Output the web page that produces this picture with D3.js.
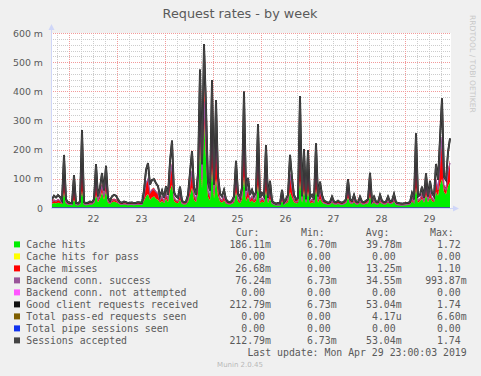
<!DOCTYPE html>
<html>
<head>
<meta charset="utf-8">
<script src="https://d3js.org/d3.v7.min.js"></script>
<style>
  body { margin: 0; background: #f0f0f0; }
  svg { display: block; }
  .ttl { font-family: "DejaVu Sans", sans-serif; }
  .mono { font-family: "DejaVu Sans Mono", monospace; }
</style>
</head>
<body>
<div id="chart"></div>
<script>
// hourly samples, Apr 21 15:00 -> Apr 29 23:00 (values in milli req/s)
var clientReq = [
  30, 42, 36, 44, 38, 26, 182, 30, 20, 18,
  17, 113, 18, 16, 22, 267, 20, 17, 18, 22,
  20, 30, 151, 40, 69, 120, 60, 145, 35, 25,
  40, 45, 42, 30, 20, 18, 22, 20, 17, 18,
  19, 17, 18, 20, 19, 18, 60, 130, 154, 80,
  96, 99, 85, 75, 40, 60, 35, 75, 45, 159,
  231, 55, 40, 35, 73, 25, 20, 22, 45, 121,
  195, 70, 45, 120, 475, 150, 562, 346, 90, 60,
  439, 80, 370, 110, 50, 40, 62, 30, 22, 20,
  25, 40, 162, 50, 35, 70, 399, 60, 103, 45,
  62, 40, 55, 288, 35, 51, 40, 216, 35, 93,
  25, 18, 15, 17, 16, 62, 20, 30, 45, 182,
  103, 45, 30, 35, 384, 40, 202, 30, 199, 35,
  45, 30, 222, 40, 90, 45, 25, 22, 18, 20,
  39, 22, 20, 25, 20, 18, 22, 30, 99, 30,
  25, 45, 22, 20, 39, 22, 20, 25, 30, 121,
  25, 39, 22, 20, 45, 25, 20, 22, 39, 22,
  25, 48, 20, 17, 16, 15, 16, 17, 18, 20,
  51, 30, 256, 40, 45, 73, 35, 119, 40, 93,
  51, 40, 151, 96, 237, 376, 107, 96, 191, 239
];
// sessions accepted reads identical to good client requests
var sessions = clientReq;

var cacheHits = [
  15, 17, 16, 18, 17, 14, 55, 15, 13, 13,
  13, 28, 13, 13, 14, 60, 13, 13, 13, 14,
  13, 16, 45, 20, 32, 55, 28, 60, 17, 15,
  20, 22, 20, 16, 13, 13, 14, 13, 13, 13,
  13, 13, 13, 13, 13, 13, 25, 40, 48, 28,
  36, 40, 32, 28, 18, 24, 16, 32, 20, 60,
  80, 24, 18, 16, 28, 14, 13, 14, 20, 45,
  70, 28, 20, 50, 230, 65, 300, 170, 38, 26,
  140, 32, 100, 42, 22, 18, 26, 15, 14, 13,
  15, 18, 55, 22, 16, 28, 110, 24, 38, 20,
  26, 18, 24, 80, 16, 22, 18, 62, 16, 32,
  15, 13, 12, 13, 12, 24, 13, 16, 20, 55,
  36, 20, 16, 17, 95, 18, 62, 16, 58, 16,
  20, 16, 65, 18, 32, 20, 15, 14, 13, 13,
  18, 14, 13, 15, 13, 13, 14, 16, 36, 16,
  15, 20, 14, 13, 18, 14, 13, 15, 16, 40,
  15, 18, 14, 13, 20, 15, 13, 14, 18, 14,
  15, 22, 13, 12, 12, 11, 12, 12, 13, 13,
  22, 16, 70, 18, 24, 32, 18, 45, 20, 36,
  24, 20, 55, 42, 80, 100, 55, 46, 75, 90
];

var cacheMisses = [
  14, 12, 10, 12, 10, 11, 63, 14, 6, 4,
  3, 42, 4, 2, 7, 103, 6, 3, 4, 7,
  6, 13, 52, 10, 18, 32, 16, 42, 17, 9,
  10, 11, 10, 13, 6, 4, 7, 6, 3, 4,
  5, 3, 4, 6, 5, 4, 17, 44, 52, 25,
  30, 29, 26, 23, 11, 18, 9, 21, 12, 49,
  75, 15, 11, 9, 22, 10, 6, 7, 12, 37,
  62, 20, 12, 35, 122, 42, 130, 88, 25, 16,
  149, 23, 135, 33, 13, 11, 17, 14, 7, 6,
  9, 11, 53, 13, 9, 20, 144, 17, 32, 12,
  17, 11, 15, 103, 9, 14, 11, 77, 9, 30,
  9, 4, 2, 3, 3, 18, 6, 13, 12, 63,
  33, 12, 13, 17, 144, 10, 70, 13, 70, 9,
  12, 13, 78, 10, 28, 12, 9, 7, 4, 6,
  10, 7, 6, 9, 6, 4, 7, 13, 31, 13,
  9, 12, 7, 6, 10, 7, 6, 9, 13, 40,
  9, 10, 7, 6, 12, 9, 6, 7, 10, 7,
  9, 12, 6, 4, 3, 3, 3, 4, 4, 6,
  14, 13, 92, 10, 10, 20, 16, 36, 10, 28,
  13, 10, 48, 26, 78, 138, 25, 25, 58, 74
];

var backendConn = [
  20, 27, 23, 29, 25, 17, 118, 20, 13, 12,
  11, 73, 12, 10, 14, 174, 13, 11, 12, 14,
  13, 20, 98, 26, 45, 78, 39, 94, 23, 16,
  26, 29, 27, 20, 13, 12, 14, 13, 11, 12,
  12, 11, 12, 13, 12, 12, 39, 85, 100, 52,
  62, 64, 55, 49, 26, 39, 23, 49, 29, 103,
  150, 36, 26, 23, 47, 16, 13, 14, 29, 79,
  127, 46, 29, 78, 309, 98, 365, 225, 59, 39,
  285, 52, 240, 72, 33, 26, 40, 20, 14, 13,
  16, 26, 105, 33, 23, 46, 259, 39, 67, 29,
  40, 26, 36, 187, 23, 33, 26, 140, 23, 60,
  16, 12, 10, 11, 10, 40, 13, 20, 29, 118,
  67, 29, 20, 23, 250, 26, 131, 20, 129, 23,
  29, 20, 144, 26, 59, 29, 16, 14, 12, 13,
  25, 14, 13, 16, 13, 12, 14, 20, 64, 20,
  16, 29, 14, 13, 25, 14, 13, 16, 20, 79,
  16, 25, 14, 13, 29, 16, 13, 14, 25, 14,
  16, 31, 13, 11, 10, 10, 10, 11, 12, 13,
  33, 20, 166, 26, 29, 47, 23, 77, 26, 60,
  33, 26, 98, 62, 154, 244, 70, 62, 124, 155
];

var yTicks = [0, 100, 200, 300, 400, 500, 600];
var dayTicks = [22, 23, 24, 25, 26, 27, 28, 29];

var legendLabels = ["Cache hits", "Cache hits for pass", "Cache misses", "Backend conn. success",
  "Backend conn. not attempted", "Good client requests received", "Total pass-ed requests seen",
  "Total pipe sessions seen", "Sessions accepted"];
var legendColors = ["#00ee00", "#ffff00", "#ff0000", "#995599", "#ff55ff", "#111111", "#7f5f00", "#1133ee", "#444444"];
var curVals = ["186.11m", "0.00", "26.68m", "76.24m", "0.00", "212.79m", "0.00", "0.00", "212.79m"];
var minVals = ["6.70m", "0.00", "0.00", "6.73m", "0.00", "6.73m", "0.00", "0.00", "6.73m"];
var avgVals = ["39.78m", "0.00", "13.25m", "34.55m", "0.00", "53.04m", "4.17u", "0.00", "53.04m"];
var maxVals = ["1.72", "0.00", "1.10", "993.87m", "0.00", "1.74", "6.60m", "0.00", "1.74"];

var W = 481, H = 376;
var fontCol = "#5a5a5a";
var axisCol = "#cfd6f8";

var svg = d3.select("#chart").append("svg")
  .attr("width", W)
  .attr("height", H);

svg.append("rect").attr("width", W).attr("height", H).attr("fill", "#f0f0f0");

var t0 = new Date(2019, 3, 21, 15, 0);
var t1 = new Date(2019, 3, 29, 23, 0);
var x = d3.scaleTime().domain([t0, t1]).range([51, 451]);
var y = d3.scaleLinear().domain([0, 600]).range([208, 33]);

function sampleTime(i) {
  return new Date(t0.getTime() + (i + 0.5) * 3600e3);
}

// canvas
svg.append("rect")
  .attr("x", 51).attr("y", 33)
  .attr("width", 400).attr("height", 175)
  .attr("fill", "#ffffff");

// grid
var grid = svg.append("g").attr("class", "grid");
var minorY = d3.range(20, 601, 20).filter(function(v) { return v % 100 != 0; });
grid.selectAll(".hminor").data(minorY).enter().append("line")
  .attr("x1", 51).attr("x2", 451)
  .attr("y1", function(d) { return Math.round(y(d)) + 0.5; })
  .attr("y2", function(d) { return Math.round(y(d)) + 0.5; })
  .attr("stroke", "#cccccc").attr("stroke-dasharray", "1,1");

var minorX = d3.timeHour.every(6).range(t0, t1).filter(function(d) { return d.getHours() != 0; });
grid.selectAll(".vminor").data(minorX).enter().append("line")
  .attr("y1", 33).attr("y2", 208)
  .attr("x1", function(d) { return Math.round(x(d)) + 0.5; })
  .attr("x2", function(d) { return Math.round(x(d)) + 0.5; })
  .attr("stroke", "#cccccc").attr("stroke-dasharray", "1,1");

grid.selectAll(".hmajor").data(yTicks.slice(1)).enter().append("line")
  .attr("x1", 51).attr("x2", 451)
  .attr("y1", function(d) { return Math.round(y(d)) + 0.5; })
  .attr("y2", function(d) { return Math.round(y(d)) + 0.5; })
  .attr("stroke", "#f29a9a").attr("stroke-dasharray", "1,1");

var midnights = d3.timeDay.range(t0, t1);
grid.selectAll(".vmajor").data(midnights).enter().append("line")
  .attr("y1", 33).attr("y2", 208)
  .attr("x1", function(d) { return Math.round(x(d)) + 0.5; })
  .attr("x2", function(d) { return Math.round(x(d)) + 0.5; })
  .attr("stroke", "#f29a9a").attr("stroke-dasharray", "1,1");

// series
var idx = d3.range(clientReq.length);

var areaHits = d3.area()
  .x(function(i) { return x(sampleTime(i)); })
  .y0(y(0))
  .y1(function(i) { return y(cacheHits[i]); });

var areaMiss = d3.area()
  .x(function(i) { return x(sampleTime(i)); })
  .y0(function(i) { return y(cacheHits[i]); })
  .y1(function(i) { return y(cacheHits[i] + cacheMisses[i]); });

svg.append("path").datum(idx).attr("d", areaHits).attr("fill", legendColors[0]);
svg.append("path").datum(idx).attr("d", areaMiss).attr("fill", legendColors[2]);

function lineOf(arr) {
  return d3.line()
    .x(function(i) { return x(sampleTime(i)); })
    .y(function(i) { return y(arr[i]); });
}
var zeros = idx.map(function() { return 0; });

var lineSeries = [
  [backendConn, legendColors[3], 1.2],
  [zeros, legendColors[4], 1],
  [clientReq, legendColors[5], 1.9],
  [zeros, legendColors[6], 1],
  [zeros, legendColors[7], 1],
  [sessions, legendColors[8], 1.5]
];
lineSeries.forEach(function(s) {
  svg.append("path").datum(idx)
    .attr("d", lineOf(s[0]))
    .attr("fill", "none")
    .attr("stroke", s[1])
    .attr("stroke-width", s[2])
    .attr("stroke-linejoin", "miter");
});

// axes lines with arrows
svg.append("line").attr("x1", 51.5).attr("x2", 51.5).attr("y1", 208).attr("y2", 28)
  .attr("stroke", axisCol);
svg.append("path").attr("d", "M48.5,30 L51.5,24 L54.5,30 Z").attr("fill", axisCol);
svg.append("line").attr("x1", 51).attr("x2", 455).attr("y1", 208.5).attr("y2", 208.5)
  .attr("stroke", axisCol);
svg.append("path").attr("d", "M453,205.5 L459,208.5 L453,211.5 Z").attr("fill", axisCol);

// tick labels
var yAxis = d3.axisLeft(y)
  .tickValues(yTicks)
  .tickSize(0)
  .tickPadding(8)
  .tickFormat(function(d) { return d == 0 ? "0" : d + " m"; });
var gy = svg.append("g").attr("transform", "translate(51,0)").call(yAxis);
gy.select(".domain").remove();
gy.selectAll("text").attr("class", "ttl").style("font-size", "9.4px").attr("fill", fontCol);

var noonTicks = dayTicks.map(function(d) { return new Date(2019, 3, d, 12, 0); });
var xAxis = d3.axisBottom(x)
  .tickValues(noonTicks)
  .tickSize(0)
  .tickPadding(7)
  .tickFormat(d3.timeFormat("%d"));
var gx = svg.append("g").attr("transform", "translate(0,208)").call(xAxis);
gx.select(".domain").remove();
gx.selectAll("text").attr("class", "ttl").style("font-size", "9.4px").attr("fill", fontCol);

// title + watermark
svg.append("text").attr("class", "ttl")
  .attr("x", 240).attr("y", 18)
  .attr("text-anchor", "middle")
  .style("font-size", "12.8px")
  .attr("fill", fontCol)
  .text("Request rates - by week");

svg.append("text").attr("class", "ttl")
  .attr("transform", "translate(469.5,15) rotate(90)")
  .style("font-size", "7.6px")
  .attr("fill", "#c8c8c8")
  .text("RRDTOOL / TOBI OETIKER");

// legend
var lg = svg.append("g").attr("class", "mono").style("font-size", "9.85px").attr("fill", fontCol);
var colEnds = [265, 330.7, 395.7, 460.7];
var heads = ["Cur:", "Min:", "Avg:", "Max:"];
var headStarts = [235.7, 301, 365.7, 430];
heads.forEach(function(h, k) {
  lg.append("text").attr("x", headStarts[k]).attr("y", 235.7).text(h);
});

var cols = [curVals, minVals, avgVals, maxVals];
legendLabels.forEach(function(lab, r) {
  var by = 247.7 + 12 * r;
  lg.append("rect")
    .attr("x", 14).attr("y", by - 6.3)
    .attr("width", 6).attr("height", 6)
    .attr("fill", legendColors[r]);
  lg.append("text").attr("x", 26.3).attr("y", by).text(lab);
  cols.forEach(function(col, k) {
    var m = col[r].match(/^([0-9.]+)(\D?)$/);
    lg.append("text").attr("x", colEnds[k]).attr("y", by)
      .attr("text-anchor", "end").text(m[1]);
    if (m[2]) {
      lg.append("text").attr("x", colEnds[k]).attr("y", by).text(m[2]);
    }
  });
});

lg.append("text").attr("x", 466.7).attr("y", 355.7)
  .attr("text-anchor", "end")
  .text("Last update: Mon Apr 29 23:00:03 2019");

svg.append("text").attr("class", "ttl")
  .attr("x", 240).attr("y", 367)
  .attr("text-anchor", "middle")
  .style("font-size", "7px")
  .attr("fill", "#b8b8b8")
  .text("Munin 2.0.45");
</script>
</body>
</html>
